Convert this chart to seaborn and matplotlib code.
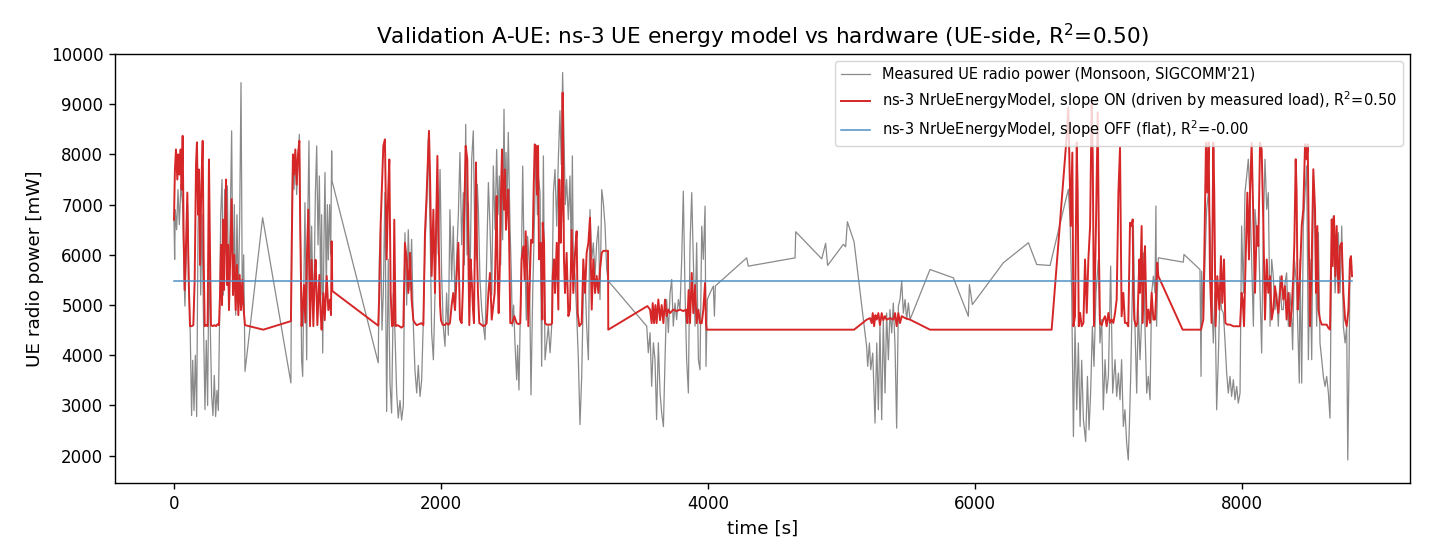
"""Validation A-UE: ns-3 UE energy model vs measured hardware power"""

import pandas as pd
import matplotlib
matplotlib.use('Agg')
import matplotlib.pyplot as plt
import seaborn as sns

# --- Data (time [s], power [mW]) ---
MEASURED = [
    # burst 1
    (0, 6700), (5, 5910), (10, 6900), (20, 6500), (30, 7300), (40, 6600), (52, 7400), (65, 7000),
    (75, 5600), (82, 4980), (92, 6000), (102, 7000), (112, 5400), (122, 4400), (132, 2800), (140, 3900),
    (150, 2900), (160, 4000), (170, 2780), (180, 6500), (190, 7500), (200, 5200), (210, 6800), (222, 4500),
    (232, 2920), (242, 4300), (252, 3000), (262, 5900), (272, 4500), (282, 3200), (292, 2800), (302, 3600),
    (312, 2780), (322, 3300), (332, 2900), (342, 4800), (350, 6800), (360, 7500), (370, 5200), (380, 7300),
    (390, 6000), (400, 7370), (410, 5000), (420, 6400), (432, 8470), (442, 5200), (452, 7000), (462, 4800),
    (472, 6800), (482, 5100), (492, 6700), (502, 9430), (512, 5000), (522, 6000), (532, 3680), (664, 6740),
    (876, 3450),
    # burst 2
    (881, 6570), (889, 7800), (899, 7300), (909, 8000), (919, 7200), (929, 7900), (939, 8400), (949, 6000),
    (956, 3910), (964, 3580), (974, 5600), (981, 7040), (994, 3910), (1001, 6500), (1011, 8270), (1021, 5400),
    (1031, 6570), (1041, 5000), (1049, 5240), (1059, 7200), (1069, 8170), (1079, 6200), (1089, 7570),
    (1099, 5200), (1106, 6800), (1114, 4045), (1124, 6400), (1131, 7640), (1141, 5300), (1149, 7000),
    (1156, 5900), (1166, 7000), (1174, 6000), (1181, 8070), (1184, 7470), (1530, 3850),
    # burst 3
    (1538, 5910), (1548, 6570), (1558, 4500), (1568, 5240), (1580, 7240), (1593, 2880), (1605, 5910),
    (1618, 3450), (1630, 2850), (1643, 5240), (1655, 4450), (1668, 3250), (1680, 2750), (1693, 3100),
    (1705, 2710), (1718, 3000), (1730, 6440), (1743, 5000), (1755, 6500), (1768, 5300), (1780, 6310),
    (1793, 4580), (1805, 3700), (1818, 3250), (1830, 3800), (1843, 3180), (1855, 3500), (1868, 4710),
    (1880, 6170), (1893, 7000), (1905, 8300), (1918, 6570), (1930, 4450), (1943, 3910), (1955, 5200),
    (1968, 7240), (1980, 6000), (1993, 7700), (2005, 5600), (2017, 4580), (2030, 4180), (2042, 5240),
    (2055, 4400), (2067, 6900), (2080, 5500), (2092, 6570), (2105, 5000), (2117, 5910), (2130, 6800),
    (2142, 8040), (2155, 6200), (2167, 7240), (2175, 5800), (2185, 8600), (2195, 6000), (2205, 7040),
    (2217, 5300), (2230, 7900), (2242, 8470), (2252, 6500), (2262, 5910), (2272, 7400), (2280, 6900),
    (2292, 5500), (2305, 4910), (2317, 4600), (2330, 4310), (2342, 5910), (2355, 7440), (2367, 6570),
    (2380, 5200), (2392, 7770), (2405, 6500), (2417, 8100), (2427, 6800), (2437, 7570), (2447, 5800),
    (2454, 7700), (2462, 6300), (2472, 8900), (2479, 7000), (2487, 8040), (2494, 6800), (2504, 8440),
    (2517, 6570), (2527, 5600), (2534, 4580), (2544, 5000), (2554, 4250), (2567, 3510), (2574, 4200),
    (2584, 3310), (2592, 4500), (2599, 5240), (2612, 7770), (2622, 6000), (2629, 5910), (2639, 4700),
    (2649, 6370), (2662, 5780), (2674, 3210), (2682, 4500), (2687, 5240), (2699, 6570), (2712, 8170),
    (2722, 6800), (2729, 7570), (2742, 7240), (2754, 3780), (2767, 7970), (2779, 3910), (2792, 4250),
    (2804, 4580), (2817, 4050), (2829, 4580), (2842, 7240), (2854, 7700), (2867, 6570), (2879, 7900),
    (2891, 8870), (2901, 7800), (2911, 9630), (2921, 8370), (2931, 7000), (2941, 7500), (2954, 6700),
    (2966, 7570), (2976, 6000), (2984, 7970), (2991, 5910), (3004, 5580), (3016, 4840), (3029, 3910),
    (3041, 2620), (3054, 3580), (3066, 5240), (3079, 5580), (3091, 4580), (3104, 3910), (3116, 6900),
    (3129, 5910), (3141, 6240), (3154, 5580), (3166, 6240), (3179, 6570), (3191, 5110), (3204, 7300),
    (3216, 7040), (3229, 6570), (3241, 5710), (3253, 5480), (3541, 4580),
    # burst 4
    (3553, 4050), (3566, 4450), (3578, 3380), (3591, 4250), (3603, 3910), (3615, 2720), (3628, 4250),
    (3641, 3250), (3653, 2850), (3666, 2580), (3678, 3910), (3690, 5110), (3703, 4450), (3716, 5240),
    (3728, 5510), (3740, 4580), (3753, 5040), (3765, 4710), (3778, 5110), (3790, 4910), (3803, 5910),
    (3815, 7270), (3828, 5240), (3840, 3910), (3853, 3250), (3865, 6170), (3878, 7240), (3890, 5910),
    (3903, 4580), (3915, 6240), (3928, 3910), (3940, 3710), (3953, 6570), (3965, 5910), (3978, 6970),
    (3985, 3780), (3995, 5110), (4015, 5240), (4040, 5380), (4048, 4780), (4055, 5380),
    # sparse samples
    (4290, 5940), (4302, 5775), (4652, 5940), (4657, 6460), (4852, 5920), (4881, 6230), (4896, 5790),
    (5014, 6210), (5031, 6160), (5044, 6660), (5094, 6260), (5188, 4180),
    # burst 5
    (5196, 3780), (5209, 4245), (5219, 3713), (5234, 4045), (5251, 2650), (5264, 4245), (5276, 2915),
    (5288, 4580), (5301, 2715), (5313, 4710), (5326, 3250), (5338, 4840), (5351, 3910), (5363, 4910),
    (5376, 4445), (5388, 5040), (5401, 4180), (5413, 2550), (5426, 4980), (5438, 5110), (5451, 5480),
    (5463, 4840), (5476, 5110), (5488, 4710), (5501, 5040), (5513, 4710),
    # sparse samples
    (5663, 5708), (5838, 5542), (5950, 4777), (5958, 5409), (5980, 5010), (6212, 5842), (6400, 6241),
    (6462, 5808), (6562, 5788), (6699, 7305),
    # burst 6
    (6712, 6707), (6724, 5243), (6737, 2382), (6749, 4578), (6762, 2915), (6774, 4245), (6787, 2582),
    (6799, 3900), (6812, 2715), (6829, 2282), (6842, 3580), (6854, 2515), (6866, 3247), (6879, 4578),
    (6891, 3779), (6906, 5243), (6924, 5908), (6936, 4245), (6949, 4711), (6961, 2915), (6974, 3912),
    (6986, 3247), (6999, 3580), (7016, 5775), (7031, 3247), (7049, 3912), (7061, 3181), (7074, 3646),
    (7086, 3114), (7098, 3912), (7111, 2582), (7123, 2915), (7136, 2249), (7148, 1916), (7156, 2582),
    (7166, 3580), (7178, 5243), (7186, 6574), (7198, 4578), (7211, 3247), (7223, 4910), (7236, 3912),
    (7248, 4711), (7261, 6041), (7273, 4578), (7286, 3247), (7298, 3580), (7311, 3114), (7323, 5243),
    (7336, 5576), (7348, 5243), (7355, 6973), (7360, 4578), (7373, 5941),
    # sparse samples
    (7560, 5855), (7565, 6008), (7685, 5708), (7693, 3580), (7698, 5675),
    # burst 7
    (7710, 4711), (7723, 5908), (7735, 6906), (7748, 7239), (7760, 6574), (7772, 5243), (7785, 4245),
    (7797, 5243), (7810, 2915), (7822, 3912), (7835, 5243), (7847, 4910), (7860, 4844), (7872, 4312),
    (7885, 3646), (7897, 3247), (7910, 3580), (7922, 3181), (7935, 3513), (7947, 3114), (7960, 3380),
    (7972, 3047), (7985, 3247), (7997, 6574), (8010, 5243), (8022, 7239), (8035, 7571), (8047, 7904),
    (8060, 7106), (8072, 5908), (8085, 4578), (8097, 6906), (8110, 6441), (8122, 6574), (8135, 5243),
    (8147, 4045), (8160, 6574), (8172, 7904), (8185, 6906), (8197, 7239), (8210, 4578), (8222, 5908),
    (8234, 5576), (8247, 4910), (8259, 5243), (8272, 4578), (8284, 5576), (8297, 4910), (8309, 4910),
    (8322, 5442), (8334, 5642), (8347, 4578), (8359, 5243), (8372, 4711), (8379, 4112), (8392, 5908),
    (8409, 5376), (8429, 3447), (8434, 5908), (8447, 3447), (8459, 6574), (8472, 7239), (8484, 7771),
    (8497, 3912), (8509, 5908), (8522, 3912), (8534, 7571), (8547, 6574), (8559, 4578), (8572, 6441),
    (8584, 4245), (8597, 3912), (8609, 3580), (8622, 3380), (8634, 3580), (8647, 3247), (8659, 2748),
    (8672, 6574), (8684, 6773), (8697, 5243), (8709, 5908), (8722, 6441), (8734, 5243), (8747, 6574),
    (8759, 4578), (8772, 4245), (8784, 4578), (8792, 1916), (8802, 3912), (8809, 5908), (8821, 5775),
]

SLOPE_ON = [
    # burst 1
    (0, 6700), (7, 7700), (15, 8100), (25, 7500), (32, 8000), (40, 7600), (50, 8100), (57, 7300),
    (65, 8370), (72, 6500), (80, 5300), (90, 6200), (100, 7240), (110, 5500), (120, 4580), (132, 4580),
    (145, 4600), (155, 5500), (165, 7800), (172, 8240), (180, 6800), (187, 7700), (195, 5800), (205, 7400),
    (215, 8270), (222, 6000), (230, 4580), (242, 4600), (252, 4580), (262, 7900), (270, 6000), (277, 4600),
    (290, 4580), (302, 4600), (315, 4580), (327, 4620), (337, 4600), (345, 5200), (352, 6200), (360, 5000),
    (367, 6700), (375, 5300), (382, 6600), (390, 7500), (397, 5400), (405, 6200), (412, 4900), (422, 6000),
    (432, 7110), (442, 5200), (452, 6000), (462, 4900), (472, 5800), (482, 4800), (492, 5600), (502, 4900),
    (512, 5500), (522, 4900), (532, 4600), (669, 4510), (876, 4680),
    # burst 2
    (884, 6570), (891, 8000), (899, 7600), (909, 8100), (919, 7400), (929, 8000), (939, 8270), (946, 6500),
    (956, 4580), (966, 5000), (974, 5400), (984, 4650), (994, 5800), (1006, 6900), (1019, 4580),
    (1031, 5900), (1044, 4580), (1054, 5600), (1061, 5900), (1074, 4600), (1089, 5600), (1099, 4800),
    (1106, 4510), (1119, 5240), (1129, 4700), (1144, 5580), (1156, 4900), (1169, 5110), (1176, 4800),
    (1181, 6270), (1186, 5280), (1530, 4590),
    # burst 3
    (1538, 5240), (1548, 6600), (1556, 7240), (1568, 8170), (1580, 8300), (1593, 5910), (1605, 7300),
    (1613, 7900), (1623, 5240), (1633, 4580), (1643, 4600), (1650, 6700), (1660, 4580), (1673, 4600),
    (1688, 4580), (1703, 4550), (1718, 4580), (1730, 6240), (1743, 5910), (1755, 5240), (1768, 6040),
    (1780, 5110), (1793, 4700), (1805, 4640), (1818, 4600), (1835, 4620), (1853, 4640), (1868, 4600),
    (1880, 6440), (1893, 7240), (1903, 8000), (1910, 8470), (1918, 7570), (1930, 5580), (1943, 6900),
    (1955, 5240), (1963, 6500), (1973, 7970), (1983, 6240), (1993, 5000), (2000, 4700), (2012, 4610),
    (2027, 4600), (2042, 4640), (2057, 4610), (2067, 4640), (2080, 5000), (2092, 5240), (2105, 4900),
    (2117, 5580), (2130, 6240), (2142, 4710), (2155, 4640), (2165, 5400), (2172, 6570), (2185, 8170),
    (2197, 7900), (2205, 6000), (2212, 4600), (2222, 5910), (2232, 5400), (2240, 4900), (2247, 4640),
    (2255, 6500), (2262, 7840), (2270, 6000), (2277, 5240), (2287, 4640), (2302, 4610), (2317, 4580),
    (2332, 4600), (2342, 4640), (2355, 5240), (2367, 5640), (2380, 4710), (2392, 5000), (2402, 5240),
    (2410, 6200), (2417, 7170), (2425, 5500), (2432, 4840), (2442, 5910), (2450, 7300), (2457, 8100),
    (2465, 7200), (2472, 6900), (2479, 7700), (2487, 6500), (2494, 6900), (2504, 7300), (2512, 6000),
    (2519, 4640), (2534, 4640), (2549, 4780), (2567, 4640), (2582, 4620), (2594, 4640), (2604, 5910),
    (2617, 6170), (2627, 5500), (2634, 6470), (2647, 5580), (2654, 4580), (2664, 5400), (2674, 6300),
    (2687, 6240), (2694, 7300), (2702, 8200), (2712, 8170), (2719, 7200), (2727, 8170), (2734, 5910),
    (2747, 6240), (2759, 4710), (2762, 6640), (2772, 6240), (2779, 4640), (2792, 4610), (2807, 4610),
    (2822, 4610), (2832, 4640), (2837, 5580), (2847, 5910), (2854, 5240), (2867, 6240), (2879, 4910),
    (2886, 7500), (2896, 6240), (2904, 6900), (2911, 9230), (2916, 7900), (2921, 5910), (2929, 5240),
    (2941, 6040), (2954, 4780), (2966, 4910), (2979, 6500), (2991, 5240), (3004, 6040), (3016, 6470),
    (3024, 4840), (3036, 4580), (3054, 4640), (3066, 5910), (3079, 5240), (3091, 6040), (3104, 6240),
    (3116, 6740), (3129, 4910), (3141, 5910), (3154, 5240), (3166, 5580), (3179, 5240), (3191, 5710),
    (3204, 6040), (3216, 6080), (3241, 6080), (3251, 6080), (3253, 4510), (3546, 4980),
    # burst 4
    (3566, 4910), (3578, 4640), (3586, 5040), (3596, 4640), (3606, 5000), (3615, 4640), (3628, 5110),
    (3641, 4700), (3653, 5000), (3666, 4640), (3678, 5110), (3690, 4780), (3703, 4910), (3716, 4840),
    (3740, 4910), (3765, 4880), (3790, 4910), (3815, 4880), (3835, 4910), (3845, 4640), (3855, 5300),
    (3865, 4640), (3878, 5640), (3890, 4840), (3903, 5400), (3915, 4640), (3928, 4910), (3940, 4640),
    (3953, 4640), (3965, 4910), (3978, 5440), (3985, 4640), (3990, 4510), (5094, 4510),
    # burst 5
    (5189, 4710), (5214, 4740), (5226, 4640), (5234, 4840), (5244, 4580), (5254, 4800), (5264, 4710),
    (5276, 4840), (5288, 4600), (5301, 4840), (5313, 4700), (5326, 4780), (5338, 4710), (5363, 4740),
    (5388, 4710), (5401, 4840), (5413, 4580), (5426, 4840), (5438, 4640), (5451, 4780), (5476, 4740),
    (5513, 4710), (5663, 4510), (6574, 4510),
    # burst 6
    (6687, 8370), (6699, 8935), (6707, 7900), (6717, 6574), (6729, 8037), (6737, 4578), (6749, 4777),
    (6762, 8237), (6769, 7239), (6777, 4578), (6787, 4844), (6799, 4578), (6812, 4644), (6824, 5908),
    (6837, 4844), (6849, 5908), (6862, 6574), (6874, 9068), (6882, 7904), (6891, 4578), (6906, 6574),
    (6919, 8836), (6929, 5908), (6936, 4644), (6949, 4600), (6961, 4711), (6974, 4777), (6986, 4578),
    (6999, 4844), (7011, 4644), (7024, 4711), (7036, 4644), (7049, 4844), (7061, 5110), (7074, 7239),
    (7086, 8140), (7098, 4777), (7111, 5243), (7123, 4644), (7136, 4644), (7148, 4578), (7161, 6640),
    (7173, 6574), (7181, 6706), (7186, 5243), (7193, 4711), (7206, 4578), (7216, 4644), (7231, 5908),
    (7236, 5243), (7248, 6574), (7256, 4644), (7266, 5775), (7273, 6174), (7286, 4578), (7298, 4910),
    (7311, 4644), (7323, 5243), (7336, 4711), (7348, 4711), (7355, 5110), (7365, 5842), (7373, 5576),
    (7555, 4510), (7693, 4510),
    # burst 7
    (7710, 4711), (7720, 6500), (7730, 8237), (7740, 7239), (7750, 8237), (7760, 5576), (7772, 4644),
    (7785, 8237), (7792, 7239), (7802, 4578), (7815, 5576), (7830, 4910), (7842, 5975), (7852, 5043),
    (7865, 5908), (7875, 4644), (7890, 4611), (7910, 4611), (7935, 4578), (7960, 4578), (7985, 4578),
    (7997, 5243), (8005, 5110), (8015, 4578), (8027, 5908), (8040, 7239), (8052, 5908), (8060, 7239),
    (8072, 8237), (8085, 6707), (8097, 5243), (8110, 6574), (8122, 6174), (8135, 8237), (8147, 8104),
    (8160, 6574), (8172, 4711), (8185, 5908), (8197, 5243), (8210, 5576), (8222, 4711), (8234, 4910),
    (8247, 5376), (8259, 5110), (8272, 4844), (8284, 5243), (8297, 5576), (8309, 5110), (8322, 5376),
    (8334, 4711), (8347, 5243), (8359, 4578), (8372, 4910), (8384, 5576), (8392, 6241), (8402, 7904),
    (8409, 7239), (8417, 4910), (8427, 5243), (8434, 5576), (8447, 6574), (8459, 6906), (8472, 8203),
    (8484, 7904), (8492, 8203), (8502, 5908), (8509, 4578), (8522, 5908), (8534, 7705), (8547, 6906),
    (8554, 5243), (8564, 6574), (8572, 4910), (8584, 4711), (8597, 4611), (8614, 4611), (8634, 4611),
    (8647, 4544), (8659, 4511), (8672, 6707), (8679, 5775), (8689, 6773), (8699, 5576), (8709, 6574),
    (8722, 5243), (8734, 6174), (8747, 6241), (8759, 5243), (8772, 4711), (8784, 4578), (8797, 4910),
    (8809, 5908), (8816, 5975), (8824, 5576),
]

SLOPE_OFF = [(0, 5480), (8824, 5480)]

LABELS = [
    "Measured UE radio power (Monsoon, SIGCOMM'21)",
    "ns-3 NrUeEnergyModel, slope ON (driven by measured load), R$^2$=0.50",
    "ns-3 NrUeEnergyModel, slope OFF (flat), R$^2$=-0.00",
]


def to_frame(pairs):
    return pd.DataFrame(pairs, columns=['time', 'power'])


def plot_validation():
    plt.rcParams['font.family'] = ['DejaVu Sans']
    plt.rcParams['axes.linewidth'] = 1.0

    fig, ax = plt.subplots(figsize=(14.3, 5.59), dpi=100)
    fig.subplots_adjust(left=0.0804, right=0.986, top=0.9034, bottom=0.136)

    styles = [
        (MEASURED, '#8a8a8a', 0.9),
        (SLOPE_ON, '#d62728', 1.4),
        (SLOPE_OFF, '#4f8fc4', 1.1),
    ]
    for (pairs, color, lw), label in zip(styles, LABELS):
        df = to_frame(pairs)
        sns.lineplot(data=df, x='time', y='power', ax=ax, color=color, linewidth=lw,
                     estimator=None, sort=False, label=label)

    ax.set_xlim(-442, 9258)
    ax.set_ylim(1457, 10000)
    ax.set_xticks([0, 2000, 4000, 6000, 8000])
    ax.set_yticks(range(2000, 10001, 1000))
    ax.tick_params(labelsize=12, length=4.2, width=1.0, pad=4.2)

    ax.set_xlabel('time [s]', fontsize=13.2, labelpad=4.8)
    ax.set_ylabel('UE radio power [mW]', fontsize=13.2, labelpad=4.8)
    ax.set_title('Validation A-UE: ns-3 UE energy model vs hardware (UE-side, R$^2$=0.50)',
                 fontsize=15.6, pad=7.2)
    ax.legend(loc='upper right', fontsize=10.5, framealpha=0.8)

    plt.savefig('out.png', dpi=100)
    plt.close()


if __name__ == '__main__':
    plot_validation()
